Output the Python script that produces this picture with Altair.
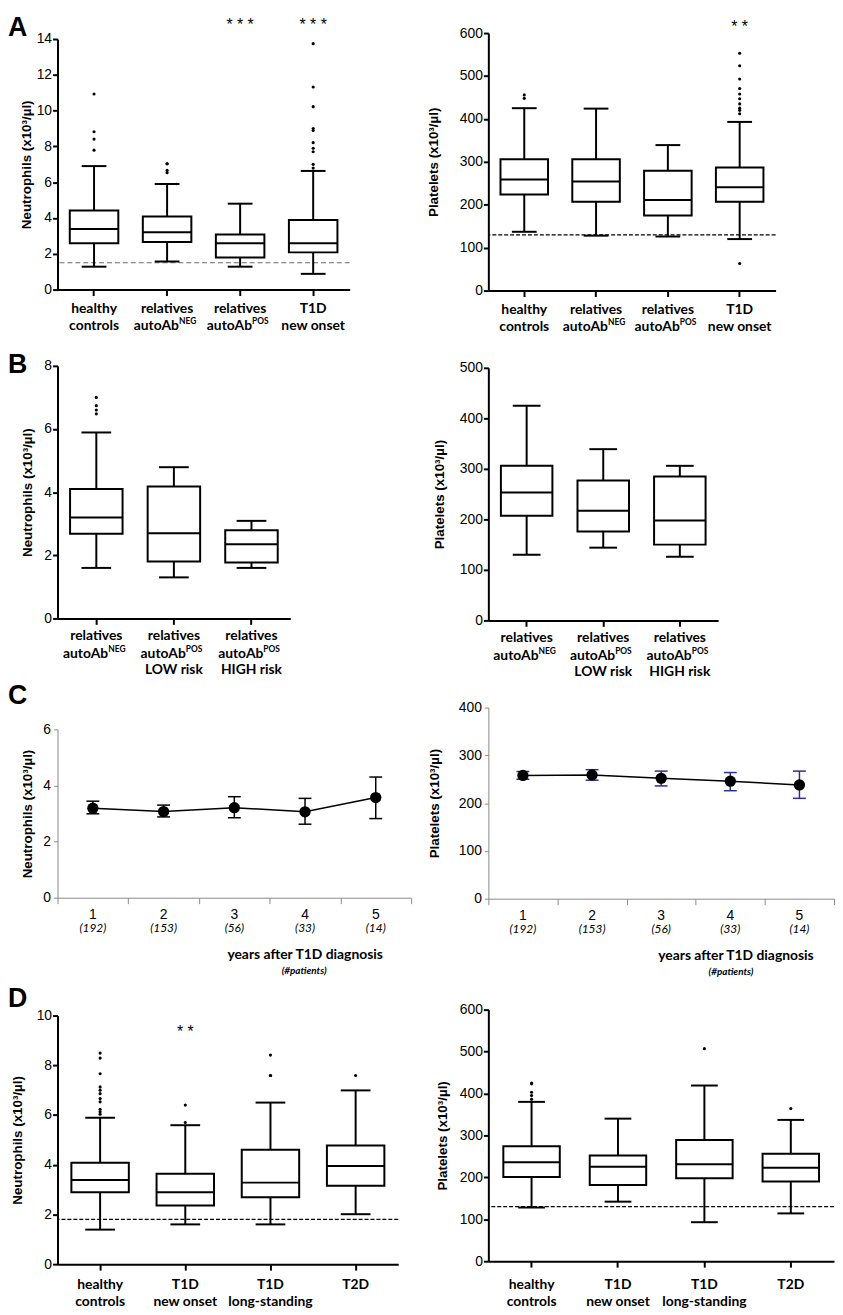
import altair as alt
import pandas as pd

TICK_FONT = "Liberation Sans"
LAB_FONT = "Lato"

# ---------------- Panel A ----------------
A_cats = ["healthy controls", "relatives autoAb NEG", "relatives autoAb POS", "T1D new onset"]
A_lab1 = ["healthy", "relatives", "relatives", "T1D"]
A_lab2 = ["controls", "autoAb", "autoAb", "new onset"]
A_sup = ["", "NEG", "POS", ""]
A_lab3 = ["", "", "", ""]

A_neu_lo = [1.28, 1.57, 1.28, 0.88]
A_neu_q1 = [2.59, 2.66, 1.79, 2.08]
A_neu_med = [3.39, 3.21, 2.59, 2.59]
A_neu_q3 = [4.42, 4.09, 3.08, 3.89]
A_neu_hi = [6.90, 5.90, 4.80, 6.63]
A_neu_out = [[7.79, 8.41, 8.82, 10.93], [6.53, 6.66, 7.03, 7.03], [],
             [6.79, 7.0, 7.7, 7.9, 8.21, 8.89, 9.0, 10.22, 11.32, 13.74]]
A_neu_sig = ["", "", "* * *", "* * *"]

A_plt_lo = [137, 128, 126, 120]
A_plt_q1 = [224, 207, 175, 207]
A_plt_med = [259, 254, 211, 241]
A_plt_q3 = [306, 306, 279, 287]
A_plt_hi = [425, 424, 339, 393]
A_plt_out = [[448, 456], [], [], [63, 412, 420, 425, 435, 447, 458, 471, 493, 524, 553]]
A_plt_sig = ["", "", "", "* *"]

# ---------------- Panel B ----------------
B_cats = ["relatives autoAb NEG", "relatives autoAb POS LOW risk", "relatives autoAb POS HIGH risk"]
B_lab1 = ["relatives", "relatives", "relatives"]
B_lab2 = ["autoAb", "autoAb", "autoAb"]
B_sup = ["NEG", "POS", "POS"]
B_lab3 = ["", "LOW risk", "HIGH risk"]

B_neu_lo = [1.60, 1.30, 1.60]
B_neu_q1 = [2.68, 1.80, 1.77]
B_neu_med = [3.20, 2.70, 2.35]
B_neu_q3 = [4.10, 4.18, 2.79]
B_neu_hi = [5.89, 4.79, 3.09]
B_neu_out = [[6.48, 6.6, 6.74, 7.0], [], []]

B_plt_lo = [130, 144, 126]
B_plt_q1 = [207, 176, 150]
B_plt_med = [253, 217, 198]
B_plt_q3 = [306, 277, 285]
B_plt_hi = [425, 339, 306]
B_plt_out = [[], [], []]

# ---------------- Panel C ----------------
C_years = ["1", "2", "3", "4", "5"]
C_npat = ["(192)", "(153)", "(56)", "(33)", "(14)"]
C_neu_mean = [3.19, 3.07, 3.21, 3.06, 3.57]
C_neu_lo = [2.99, 2.88, 2.85, 2.62, 2.82]
C_neu_hi = [3.44, 3.30, 3.60, 3.54, 4.30]
C_plt_mean = [258, 259, 252, 246, 238]
C_plt_lo = [250, 248, 236, 226, 210]
C_plt_hi = [266, 270, 267, 264, 267]

# ---------------- Panel D ----------------
D_cats = ["healthy controls", "T1D new onset", "T1D long-standing", "T2D"]
D_lab1 = ["healthy", "T1D", "T1D", "T2D"]
D_lab2 = ["controls", "new onset", "long-standing", ""]
D_sup = ["", "", "", ""]
D_lab3 = ["", "", "", ""]

D_neu_lo = [1.39, 1.60, 1.60, 2.01]
D_neu_q1 = [2.89, 2.36, 2.69, 3.15]
D_neu_med = [3.39, 2.89, 3.28, 3.95]
D_neu_q3 = [4.08, 3.64, 4.60, 4.77]
D_neu_hi = [5.89, 5.59, 6.50, 6.99]
D_neu_out = [[6.03, 6.13, 6.23, 6.53, 6.66, 6.86, 7.0, 7.13, 7.66, 8.29, 8.49],
             [5.7, 6.4], [7.59, 7.59, 8.41], [7.59]]
D_neu_sig = ["", "* *", "", ""]

D_plt_lo = [128, 142, 93, 114]
D_plt_q1 = [201, 182, 198, 190]
D_plt_med = [236, 225, 231, 223]
D_plt_q3 = [274, 252, 289, 256]
D_plt_hi = [380, 340, 419, 337]
D_plt_out = [[386, 395, 403, 423, 425], [], [507], [364]]

NEU_TITLE = "Neutrophils  (x10³/µl)"
PLT_TITLE = "Platelets (x10³/µl)"


def text_layer(cats, texts, X, y, size=14, weight="bold", style="normal",
               align="center", dx=0, dy=0, font=LAB_FONT):
    rows = [{"cat": c, "t": t} for c, t in zip(cats, texts) if t]
    if not rows:
        return None
    return alt.Chart(pd.DataFrame(rows)).mark_text(
        font=font, fontSize=size, fontWeight=weight, fontStyle=style,
        align=align, baseline="middle", dx=dx, dy=dy, color="black"
    ).encode(x=X, y=alt.value(y), text="t:N")


def letter_layer(letter, y):
    return alt.Chart(pd.DataFrame({"t": [letter]})).mark_text(
        font=TICK_FONT, fontSize=27, fontWeight="bold", align="left",
        baseline="top", color="black"
    ).encode(x=alt.value(-50), y=alt.value(y), text="t:N")


def box_panel(cats, lo, q1, med, q3, hi, outs, lab1, lab2, sup, lab3, *,
              ymax, ystep, title, width, height, rng_top, title_x,
              box_w, cap_w, ref=None, ref_color="black", ref_dash=(4, 3),
              sig=None, sig_y=0, letter=None, letter_y=0, lab_dy=(20, 37, 53)):
    X = alt.X("cat:N", sort=cats,
              scale=alt.Scale(paddingInner=0, paddingOuter=0),
              axis=alt.Axis(labels=False, title=None, domainColor="black",
                            domainWidth=2, tickColor="black", tickWidth=2,
                            tickSize=6, grid=False))
    ysc = alt.Scale(domain=[0, ymax], nice=False, range=[height, rng_top])
    yax = alt.Axis(values=list(range(0, ymax + 1, ystep)), title=title,
                   titleX=title_x, titleBaseline="middle", titleAngle=270,
                   domainColor="black", domainWidth=2, tickColor="black",
                   tickWidth=2, tickSize=5, labelPadding=1, grid=False)

    def Y(f):
        return alt.Y(f"{f}:Q", scale=ysc, axis=yax)

    stats = pd.DataFrame(dict(cat=cats, lo=lo, q1=q1, med=med, q3=q3, hi=hi))
    base = alt.Chart(stats).encode(x=X)
    layers = []
    if ref is not None:
        layers.append(alt.Chart(pd.DataFrame({"ref": [ref]})).mark_rule(
            color=ref_color, strokeDash=list(ref_dash), strokeWidth=1.2
        ).encode(y=Y("ref")))
    layers.append(base.mark_rule(color="black", strokeWidth=2).encode(y=Y("lo"), y2="hi"))
    layers.append(base.mark_bar(size=box_w, fill="white", stroke="black",
                                strokeWidth=2).encode(y=Y("q1"), y2="q3"))
    layers.append(base.mark_tick(size=box_w, thickness=2, color="black", opacity=1).encode(y=Y("med")))
    layers.append(base.mark_tick(size=cap_w, thickness=2, color="black", opacity=1).encode(y=Y("lo")))
    layers.append(base.mark_tick(size=cap_w, thickness=2, color="black", opacity=1).encode(y=Y("hi")))
    out_rows = [{"cat": c, "v": v} for c, vs in zip(cats, outs) for v in vs]
    if out_rows:
        layers.append(alt.Chart(pd.DataFrame(out_rows)).mark_circle(
            size=10, color="black", opacity=1).encode(x=X, y=Y("v")))
    # category labels
    plain2 = [t if not s else "" for t, s in zip(lab2, sup)]
    main2 = [t if s else "" for t, s in zip(lab2, sup)]
    for lyr in [
        text_layer(cats, lab1, X, height + lab_dy[0]),
        text_layer(cats, plain2, X, height + lab_dy[1]),
        text_layer(cats, main2, X, height + lab_dy[1], align="right", dx=12),
        text_layer(cats, sup, X, height + lab_dy[1], size=8.5, align="left", dx=12, dy=-5),
        text_layer(cats, lab3, X, height + lab_dy[2]),
    ]:
        if lyr is not None:
            layers.append(lyr)
    if sig:
        lyr = text_layer(cats, sig, X, sig_y, size=16, weight="normal", font=TICK_FONT)
        if lyr is not None:
            layers.append(lyr)
    if letter:
        layers.append(letter_layer(letter, letter_y))
    return alt.layer(*layers).properties(width=width, height=height)


def line_panel(years, npat, mean, lo, hi, *, ymax, ystep, title, width, height,
               rng_top, title_x, err_color, letter=None, letter_y=0,
               foot_x=250, foot2_x=249, num_dy=17, npat_dy=31, foot_dy=58, foot2_dy=74):
    X = alt.X("cat:N", sort=years,
              scale=alt.Scale(type="band", paddingInner=0, paddingOuter=0),
              axis=alt.Axis(labels=False, title=None, tickBand="extent",
                            domainColor="#8a8a8a", domainWidth=1,
                            tickColor="#8a8a8a", tickWidth=1, tickSize=6,
                            grid=False))
    ysc = alt.Scale(domain=[0, ymax], nice=False, range=[height, rng_top])
    yax = alt.Axis(values=list(range(0, ymax + 1, ystep)), title=title,
                   titleX=title_x, titleBaseline="middle", titleAngle=270,
                   domainColor="#8a8a8a", domainWidth=1, tickColor="#8a8a8a",
                   tickWidth=1, tickSize=4, labelPadding=3, grid=False)

    def Y(f):
        return alt.Y(f"{f}:Q", scale=ysc, axis=yax)

    df = pd.DataFrame(dict(cat=years, m=mean, lo=lo, hi=hi))
    base = alt.Chart(df).encode(x=X)
    layers = [
        base.mark_line(color="black", strokeWidth=1.5).encode(y=Y("m")),
        base.mark_rule(color=err_color, strokeWidth=1.5).encode(y=Y("lo"), y2="hi"),
        base.mark_tick(size=13, thickness=1.5, color=err_color, opacity=1).encode(y=Y("lo")),
        base.mark_tick(size=13, thickness=1.5, color=err_color, opacity=1).encode(y=Y("hi")),
        base.mark_circle(size=130, color="black", opacity=1).encode(y=Y("m")),
        text_layer(years, years, X, height + num_dy, size=14, weight="normal", font=TICK_FONT),
        text_layer(years, npat, X, height + npat_dy, size=12, weight="normal", style="italic"),
    ]
    foot = alt.Chart(pd.DataFrame({"t": ["years after T1D diagnosis"]})).mark_text(
        font=LAB_FONT, fontSize=14, fontWeight="bold", align="center",
        baseline="middle", color="black"
    ).encode(x=alt.value(foot_x), y=alt.value(height + foot_dy), text="t:N")
    foot2 = alt.Chart(pd.DataFrame({"t": ["(#patients)"]})).mark_text(
        font=LAB_FONT, fontSize=10, fontWeight="bold", fontStyle="italic",
        align="center", baseline="middle", color="black"
    ).encode(x=alt.value(foot2_x), y=alt.value(height + foot2_dy), text="t:N")
    layers += [foot, foot2]
    if letter:
        layers.append(letter_layer(letter, letter_y))
    return alt.layer(*layers).properties(width=width, height=height)


AL = box_panel(A_cats, A_neu_lo, A_neu_q1, A_neu_med, A_neu_q3, A_neu_hi, A_neu_out,
               A_lab1, A_lab2, A_sup, A_lab3, ymax=14, ystep=2, title=NEU_TITLE,
               width=295, height=259, rng_top=6, title_x=-31, box_w=49, cap_w=25,
               ref=1.5, ref_color="#6b6b6b", ref_dash=(5, 3), sig=A_neu_sig, sig_y=-8,
               letter="A", letter_y=-18)
AR = box_panel(A_cats, A_plt_lo, A_plt_q1, A_plt_med, A_plt_q3, A_plt_hi, A_plt_out,
               A_lab1, A_lab2, A_sup, A_lab3, ymax=600, ystep=100, title=PLT_TITLE,
               width=290, height=260, rng_top=0, title_x=-55, box_w=48, cap_w=25,
               ref=130, ref_dash=(4, 2), sig=A_plt_sig, sig_y=-6)
BL = box_panel(B_cats, B_neu_lo, B_neu_q1, B_neu_med, B_neu_q3, B_neu_hi, B_neu_out,
               B_lab1, B_lab2, B_sup, B_lab3, ymax=8, ystep=2, title=NEU_TITLE,
               width=235, height=331, rng_top=76, title_x=-30, box_w=53, cap_w=30,
               letter="B", letter_y=62, lab_dy=(18, 36, 52))
BR = box_panel(B_cats, B_plt_lo, B_plt_q1, B_plt_med, B_plt_q3, B_plt_hi, B_plt_out,
               B_lab1, B_lab2, B_sup, B_lab3, ymax=500, ystep=100, title=PLT_TITLE,
               width=232, height=333, rng_top=78, title_x=-49, box_w=52, cap_w=28,
               lab_dy=(18, 36, 52))
CL = line_panel(C_years, C_npat, C_neu_mean, C_neu_lo, C_neu_hi, ymax=6, ystep=2,
                title=NEU_TITLE, width=357, height=280, rng_top=110, title_x=-30,
                err_color="black", letter="C", letter_y=63, foot_x=250, foot2_x=249)
CR = line_panel(C_years, C_npat, C_plt_mean, C_plt_lo, C_plt_hi, ymax=400, ystep=100,
                title=PLT_TITLE, width=349, height=281, rng_top=88, title_x=-54,
                err_color="#2b2f8f", foot_x=250, foot2_x=245)
DL = box_panel(D_cats, D_neu_lo, D_neu_q1, D_neu_med, D_neu_q3, D_neu_hi, D_neu_out,
               D_lab1, D_lab2, D_sup, D_lab3, ymax=10, ystep=2, title=NEU_TITLE,
               width=344, height=369, rng_top=118, title_x=-40, box_w=58, cap_w=30,
               ref=1.8, ref_dash=(4, 2), sig=D_neu_sig, sig_y=135,
               letter="D", letter_y=88, lab_dy=(21, 38, 54))
DR = box_panel(D_cats, D_plt_lo, D_plt_q1, D_plt_med, D_plt_q3, D_plt_hi, D_plt_out,
               D_lab1, D_lab2, D_sup, D_lab3, ymax=600, ystep=100, title=PLT_TITLE,
               width=349, height=366, rng_top=112, title_x=-46, box_w=57, cap_w=27,
               ref=130, ref_dash=(4, 2), lab_dy=(24, 41, 57))

chart = alt.concat(
    AL, AR, BL, BR, CL, CR, DL, DR,
    columns=2, align="each", bounds="flush",
    spacing={"row": 0, "column": 78},
).properties(padding=0).configure_view(stroke=None).configure_axis(
    labelFont=TICK_FONT, labelFontSize=14, labelColor="black",
    titleFont=TICK_FONT, titleFontSize=13.5, titleFontWeight="bold",
    titleColor="black", grid=False,
)

chart.save("out.html", embed_options={"renderer": "svg", "actions": False})
